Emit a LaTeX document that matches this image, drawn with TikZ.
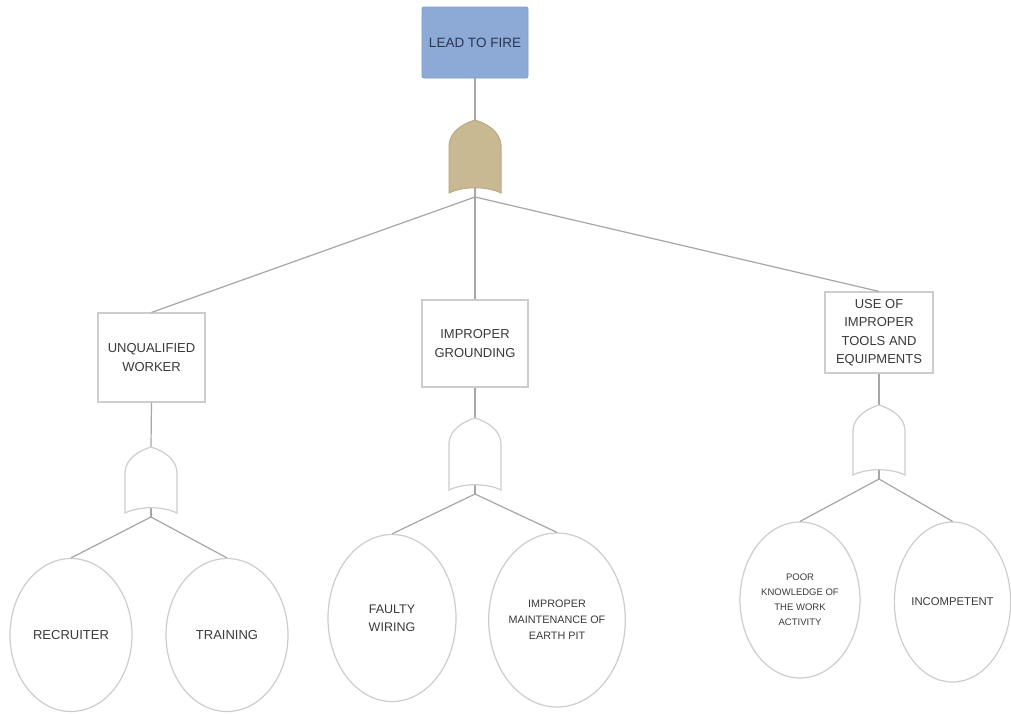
\documentclass[tikz,border=0pt]{standalone}
\usepackage{fontspec}
\setmainfont{Liberation Sans}
\usetikzlibrary{shapes.geometric}
\definecolor{topblue}{HTML}{8DAAD6}
\definecolor{topedge}{HTML}{7E9CC8}
\definecolor{gatetan}{HTML}{C9B993}
\definecolor{gateedge}{HTML}{BBAA82}
\definecolor{linegray}{HTML}{A6A6A6}
\definecolor{edgegray}{HTML}{CDCDCD}
\definecolor{txt}{HTML}{3A3A3A}
\definecolor{toptxt}{HTML}{2A3550}
\begin{document}
\begin{tikzpicture}[x=1pt,y=-1pt,
  conn/.style={draw=linegray, line width=1.2pt},
  evbox/.style={rectangle, draw=edgegray, line width=1.2pt, fill=white, inner sep=0pt, align=center, text=txt, font=\fontsize{13}{18.5}\selectfont},
  topbox/.style={rectangle, rounded corners=2pt, draw=topedge, line width=0.8pt, fill=topblue, inner sep=0pt, align=center, text=toptxt, font=\fontsize{13.5}{16}\selectfont},
  basic/.style={ellipse, draw=edgegray, line width=1.2pt, fill=white, inner sep=0pt, align=center, text=txt},
  whitegate/.style={draw=edgegray, line width=1.2pt, fill=white},
  tangate/.style={draw=gateedge, line width=1pt, fill=gatetan},
  orgate/.pic={
    \path[pic actions] (-26,#1) -- (-26,25) .. controls (-25,12) and (-13,4) .. (0,0)
      .. controls (13,4) and (25,12) .. (26,25) -- (26,#1)
      .. controls (12,{#1-7}) and (-12,{#1-7}) .. (-26,#1) -- cycle;
    \coordinate (-top) at (0,0);
    \coordinate (-bot) at (0,{#1-5});
    \coordinate (-fan) at (0,{#1+4});
  }]
\useasboundingbox (0,0) rectangle (1011,713);
\fill[white] (0,0) rectangle (1011,713);

% top event
\node[topbox, minimum width=106pt, minimum height=71pt] (top) at (475,42.5) {LEAD TO FIRE};

% intermediate events
\node[evbox, minimum width=107pt, minimum height=89pt] (B1) at (151.5,357.5) {UNQUALIFIED\\WORKER};
\node[evbox, minimum width=106pt, minimum height=87pt] (B2) at (475,343.5) {IMPROPER\\GROUNDING};
\node[evbox, minimum width=108pt, minimum height=81pt] (B3) at (879,332.5) {USE OF\\IMPROPER\\TOOLS AND\\EQUIPMENTS};

% basic events
\node[basic, minimum width=122pt, minimum height=153pt, font=\fontsize{13}{16}\selectfont] (E1) at (71,635) {RECRUITER};
\node[basic, minimum width=122pt, minimum height=153pt, font=\fontsize{13}{16}\selectfont] (E2) at (227,635) {TRAINING};
\node[basic, minimum width=128pt, minimum height=167pt, font=\fontsize{12.5}{18}\selectfont] (E3) at (392,618) {FAULTY\\WIRING};
\node[basic, minimum width=130pt, minimum height=174pt, font=\fontsize{10.8}{16}\selectfont] (E4) at (557,620) {IMPROPER\\MAINTENANCE OF\\EARTH PIT};
\node[basic, minimum width=120pt, minimum height=156pt, font=\fontsize{9.5}{15}\selectfont] (E5) at (800,600) {POOR\\KNOWLEDGE OF\\THE WORK\\ACTIVITY};
\node[basic, minimum width=115pt, minimum height=160pt, font=\fontsize{11.3}{14}\selectfont] (E6) at (952.5,602) {INCOMPETENT};

% gate coordinates (drawn later on top of connectors)
\path pic[draw=none] (g0) at (475,120) {orgate=73};
\path pic[draw=none] (g1) at (151,447) {orgate=66};
\path pic[draw=none] (g2) at (475,418) {orgate=72};
\path pic[draw=none] (g3) at (879,405) {orgate=70};

% connectors
\draw[conn] (top.south) -- (g0-top);
\draw[conn] (g0-bot) -- (g0-fan);
\draw[conn] (g0-fan) -- (B1.north);
\draw[conn] (g0-fan) -- (B2.north);
\draw[conn] (g0-fan) -- (B3.north);

\draw[conn] (B1.south) -- (g1-top);
\draw[conn] (g1-bot) -- (g1-fan);
\draw[conn] (g1-fan) -- (E1.north);
\draw[conn] (g1-fan) -- (E2.north);

\draw[conn] (B2.south) -- (g2-top);
\draw[conn] (g2-bot) -- (g2-fan);
\draw[conn] (g2-fan) -- (E3.north);
\draw[conn] (g2-fan) -- (E4.north);

\draw[conn] (B3.south) -- (g3-top);
\draw[conn] (g3-bot) -- (g3-fan);
\draw[conn] (g3-fan) -- (E5.north);
\draw[conn] (g3-fan) -- (E6.north);

% gates
\pic[tangate] at (475,120) {orgate=73};
\pic[whitegate] at (151,447) {orgate=66};
\pic[whitegate] at (475,418) {orgate=72};
\pic[whitegate] at (879,405) {orgate=70};
\end{tikzpicture}
\end{document}
